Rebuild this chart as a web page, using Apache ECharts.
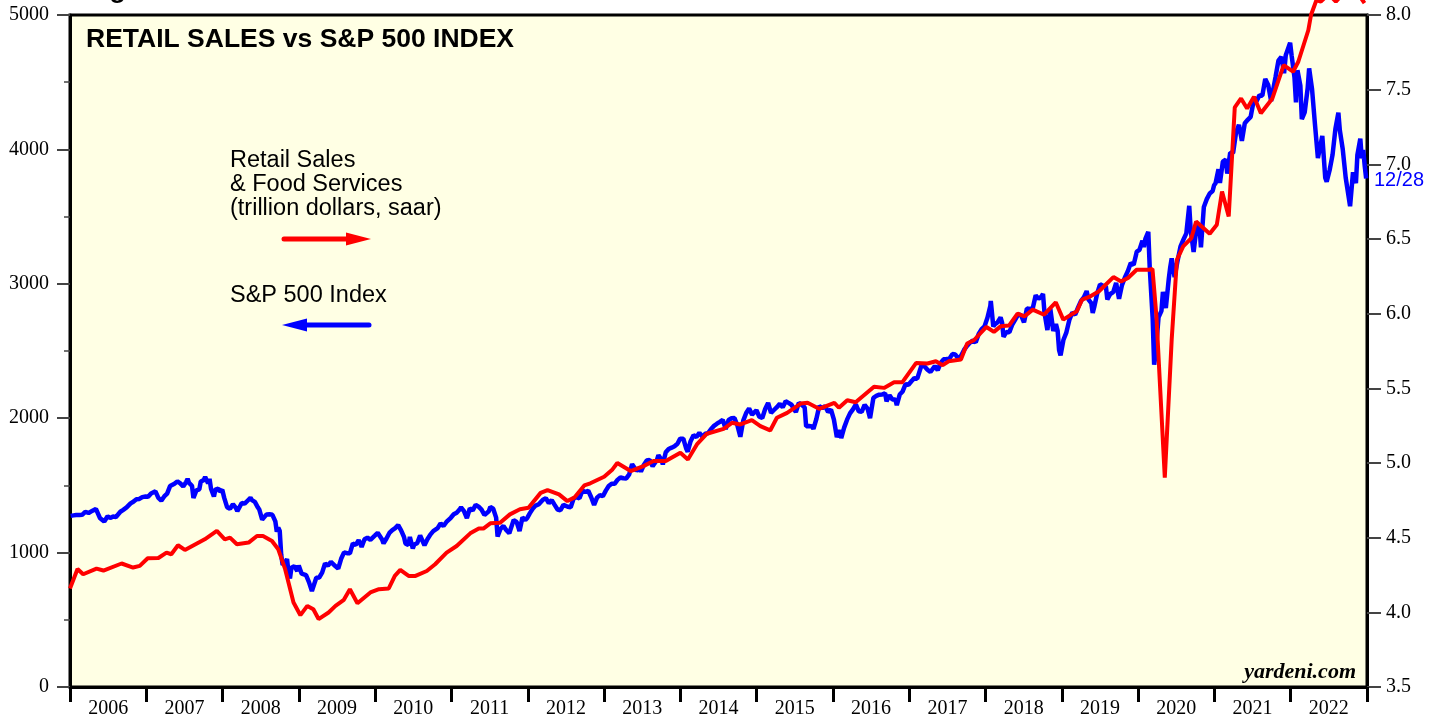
<!DOCTYPE html>
<html>
<head>
<meta charset="utf-8">
<script src="https://cdn.jsdelivr.net/npm/echarts@6/dist/echarts.min.js"></script>
<style>
html,body{margin:0;padding:0;background:#fff;}
#chart{width:1442px;height:719px;}
</style>
</head>
<body>
<div id="chart"></div>
<script>
// ---------- DATA ----------
const years = ['2006','2007','2008','2009','2010','2011','2012','2013','2014','2015','2016','2017','2018','2019','2020','2021','2022'];
const leftTicks = [0,1000,2000,3000,4000,5000];
const rightTicks = [3.5,4.0,4.5,5.0,5.5,6.0,6.5,7.0,7.5,8.0];

// Retail Sales & Food Services (trillion dollars, saar) - right axis
const retailDates = [
'2006-01-01','2006-02-06','2006-03-05','2006-05-08','2006-06-10','2006-09-05','2006-10-30','2006-12-01',
'2007-01-08','2007-02-28','2007-04-08','2007-05-01','2007-06-02','2007-07-05','2007-10-08','2007-12-05',
'2008-01-12','2008-02-06','2008-03-10','2008-05-05','2008-06-14','2008-07-13','2008-08-25','2008-09-24','2008-10-27','2008-12-06',
'2009-01-08','2009-02-10','2009-03-11','2009-04-05','2009-05-23','2009-06-25','2009-08-04','2009-09-02','2009-10-08','2009-12-09',
'2010-01-19','2010-03-07','2010-04-05','2010-05-01','2010-06-10','2010-07-13','2010-09-05','2010-10-15','2010-12-09',
'2011-01-26','2011-04-01','2011-05-12','2011-06-03','2011-07-06','2011-08-22','2011-10-08','2011-11-25',
'2012-01-05','2012-03-03','2012-04-05','2012-05-30','2012-07-09','2012-08-11','2012-09-28','2012-10-27',
'2013-01-01','2013-02-10','2013-03-05','2013-05-08','2013-07-08','2013-08-25','2013-10-23',
'2014-01-01','2014-02-06','2014-03-21','2014-05-08','2014-07-27','2014-09-05','2014-10-15','2014-12-09',
'2015-01-19','2015-03-07','2015-04-08','2015-05-27','2015-07-31','2015-09-02','2015-10-27',
'2016-01-08','2016-01-30','2016-03-10','2016-04-19','2016-07-16','2016-09-02','2016-10-20','2016-11-29',
'2017-02-03','2017-03-29','2017-05-08','2017-06-10','2017-07-08','2017-09-05','2017-10-05','2017-11-06',
'2018-01-05','2018-02-10','2018-03-14','2018-04-23','2018-06-03','2018-07-06','2018-08-15','2018-10-08','2018-12-03',
'2019-01-08','2019-02-22','2019-03-14','2019-04-08','2019-05-12','2019-06-28','2019-09-05','2019-10-12','2019-11-14','2019-12-25',
'2020-02-24','2020-03-10','2020-03-29','2020-05-08','2020-06-10','2020-07-05','2020-08-04','2020-09-12','2020-10-05','2020-12-09',
'2021-01-12','2021-02-06','2021-03-10','2021-04-08','2021-05-08','2021-06-06','2021-07-09','2021-08-11','2021-10-05','2021-11-28',
'2022-01-12','2022-02-06','2022-03-26','2022-04-08','2022-05-04','2022-05-25','2022-07-01','2022-08-05','2022-09-20','2022-10-25','2022-11-20','2022-12-20'
];
const retailValues = [
4.16,4.29,4.255,4.293,4.28,4.327,4.30,4.311,
4.362,4.364,4.40,4.389,4.449,4.418,4.489,4.545,
4.489,4.50,4.456,4.467,4.511,4.511,4.478,4.422,4.289,4.066,
3.981,4.043,4.021,3.955,3.999,4.043,4.084,4.155,4.061,4.133,
4.155,4.16,4.244,4.284,4.244,4.244,4.277,4.322,4.40,
4.444,4.529,4.561,4.561,4.596,4.60,4.656,4.69,
4.70,4.80,4.819,4.79,4.745,4.768,4.85,4.864,
4.908,4.957,5.0,4.946,4.979,5.013,5.013,
5.069,5.024,5.124,5.196,5.229,5.269,5.258,5.287,
5.247,5.218,5.303,5.336,5.398,5.403,5.363,
5.403,5.37,5.42,5.407,5.51,5.503,5.54,5.541,
5.67,5.666,5.681,5.655,5.681,5.693,5.80,5.822,
5.911,5.878,5.915,5.92,6.0,5.982,6.027,5.993,6.076,
5.96,6.0,6.016,6.094,6.112,6.15,6.245,6.216,6.239,6.294,
6.294,6.30,5.982,4.902,5.826,6.36,6.45,6.506,6.617,6.535,
6.595,6.818,6.651,7.381,7.441,7.374,7.452,7.342,7.441,7.665,
7.62,7.687,7.898,8.0,8.10,8.09,8.14,8.09,8.16,8.2,8.14,8.08
];

// S&P 500 Index (weekly) - left axis
const spxDates = [
'2006-01-04','2006-01-18','2006-01-31','2006-02-15','2006-02-28','2006-03-15','2006-03-31','2006-04-19','2006-04-28','2006-05-05','2006-05-24','2006-06-14','2006-06-30','2006-07-12','2006-07-26','2006-08-09','2006-08-30','2006-09-13','2006-09-29','2006-10-18','2006-10-31','2006-11-15','2006-11-29','2006-12-13','2006-12-29',
'2007-01-10','2007-01-24','2007-02-14','2007-02-21','2007-02-28','2007-03-14','2007-03-28','2007-04-11','2007-04-25','2007-05-16','2007-05-30','2007-06-13','2007-06-27','2007-07-11','2007-07-18','2007-07-25','2007-08-08','2007-08-15','2007-08-29','2007-09-12','2007-09-19','2007-10-03','2007-10-10','2007-10-24','2007-10-31','2007-11-07','2007-11-21','2007-11-28','2007-12-12','2007-12-19','2007-12-31',
'2008-01-09','2008-01-23','2008-02-06','2008-02-20','2008-03-05','2008-03-12','2008-03-19','2008-04-02','2008-04-16','2008-04-30','2008-05-14','2008-05-21','2008-06-04','2008-06-18','2008-06-25','2008-07-09','2008-07-16','2008-07-30','2008-08-13','2008-08-27','2008-09-10','2008-09-17','2008-09-24','2008-10-01','2008-10-08','2008-10-15','2008-10-29','2008-11-05','2008-11-12','2008-11-19','2008-11-26','2008-12-10','2008-12-24','2008-12-31',
'2009-01-07','2009-01-14','2009-01-21','2009-02-04','2009-02-18','2009-03-04','2009-03-11','2009-03-25','2009-04-08','2009-04-22','2009-05-06','2009-05-20','2009-06-03','2009-06-10','2009-06-24','2009-07-08','2009-07-22','2009-08-05','2009-08-19','2009-09-02','2009-09-16','2009-09-30','2009-10-14','2009-10-28','2009-11-11','2009-11-25','2009-12-09','2009-12-30',
'2010-01-13','2010-01-20','2010-02-03','2010-02-10','2010-02-24','2010-03-10','2010-03-24','2010-04-07','2010-04-21','2010-05-05','2010-05-19','2010-05-26','2010-06-09','2010-06-16','2010-06-30','2010-07-07','2010-07-21','2010-08-04','2010-08-25','2010-09-08','2010-09-22','2010-10-06','2010-10-27','2010-11-10','2010-11-24','2010-12-08','2010-12-29',
'2011-01-12','2011-01-26','2011-02-09','2011-02-16','2011-03-02','2011-03-16','2011-03-30','2011-04-13','2011-04-27','2011-05-11','2011-05-25','2011-06-08','2011-06-15','2011-06-29','2011-07-06','2011-07-20','2011-08-03','2011-08-10','2011-08-24','2011-09-07','2011-09-21','2011-10-05','2011-10-19','2011-10-26','2011-11-02','2011-11-09','2011-11-23','2011-12-07','2011-12-21','2011-12-30',
'2012-01-11','2012-01-25','2012-02-08','2012-02-22','2012-03-14','2012-03-28','2012-04-11','2012-04-25','2012-05-09','2012-05-23','2012-06-06','2012-06-20','2012-07-11','2012-07-25','2012-08-08','2012-08-22','2012-09-05','2012-09-19','2012-10-03','2012-10-17','2012-10-31','2012-11-14','2012-11-28','2012-12-12','2012-12-26',
'2013-01-09','2013-01-23','2013-02-06','2013-02-20','2013-03-06','2013-03-20','2013-04-03','2013-04-17','2013-05-01','2013-05-15','2013-05-22','2013-06-05','2013-06-19','2013-06-26','2013-07-10','2013-07-24','2013-08-07','2013-08-21','2013-08-28','2013-09-11','2013-09-18','2013-10-02','2013-10-09','2013-10-23','2013-11-06','2013-11-20','2013-12-04','2013-12-18','2013-12-31',
'2014-01-15','2014-01-29','2014-02-05','2014-02-19','2014-03-05','2014-03-19','2014-04-02','2014-04-16','2014-04-30','2014-05-14','2014-05-28','2014-06-11','2014-06-25','2014-07-09','2014-07-23','2014-08-06','2014-08-20','2014-09-03','2014-09-17','2014-10-01','2014-10-15','2014-10-29','2014-11-12','2014-11-26','2014-12-10','2014-12-17','2014-12-31',
'2015-01-14','2015-01-28','2015-02-11','2015-02-25','2015-03-11','2015-03-25','2015-04-08','2015-04-22','2015-05-06','2015-05-20','2015-06-03','2015-06-17','2015-07-08','2015-07-22','2015-08-05','2015-08-19','2015-08-26','2015-09-09','2015-09-23','2015-09-30','2015-10-14','2015-10-28','2015-11-11','2015-11-25','2015-12-09','2015-12-23',
'2016-01-06','2016-01-20','2016-02-03','2016-02-10','2016-02-24','2016-03-09','2016-03-23','2016-04-06','2016-04-20','2016-05-04','2016-05-18','2016-06-01','2016-06-15','2016-06-27','2016-07-13','2016-07-27','2016-08-10','2016-08-24','2016-09-07','2016-09-14','2016-09-28','2016-10-12','2016-10-26','2016-11-02','2016-11-16','2016-11-30','2016-12-14','2016-12-28',
'2017-01-11','2017-01-25','2017-02-08','2017-02-22','2017-03-01','2017-03-15','2017-03-29','2017-04-12','2017-04-19','2017-05-03','2017-05-17','2017-05-31','2017-06-14','2017-06-28','2017-07-12','2017-07-26','2017-08-09','2017-08-23','2017-09-06','2017-09-20','2017-10-04','2017-10-18','2017-11-01','2017-11-15','2017-11-29','2017-12-13','2017-12-27',
'2018-01-10','2018-01-24','2018-01-26','2018-02-07','2018-02-14','2018-02-28','2018-03-14','2018-03-21','2018-03-28','2018-04-11','2018-04-25','2018-05-09','2018-05-23','2018-06-06','2018-06-20','2018-07-04','2018-07-18','2018-08-01','2018-08-15','2018-08-29','2018-09-12','2018-09-26','2018-10-03','2018-10-10','2018-10-24','2018-11-07','2018-11-21','2018-12-04','2018-12-12','2018-12-19','2018-12-26',
'2019-01-09','2019-01-23','2019-02-06','2019-02-20','2019-03-06','2019-03-20','2019-04-03','2019-04-17','2019-04-30','2019-05-08','2019-05-22','2019-05-29','2019-06-05','2019-06-19','2019-07-03','2019-07-17','2019-07-31','2019-08-07','2019-08-21','2019-09-04','2019-09-18','2019-10-02','2019-10-16','2019-10-30','2019-11-13','2019-11-27','2019-12-11','2019-12-26',
'2020-01-08','2020-01-22','2020-01-29','2020-02-05','2020-02-19','2020-02-26','2020-03-04','2020-03-11','2020-03-18','2020-03-25','2020-04-01','2020-04-08','2020-04-22','2020-04-29','2020-05-13','2020-05-27','2020-06-03','2020-06-10','2020-06-24','2020-07-08','2020-07-22','2020-08-05','2020-08-19','2020-09-02','2020-09-09','2020-09-23','2020-10-07','2020-10-21','2020-10-28','2020-11-11','2020-11-25','2020-12-09','2020-12-23','2020-12-30',
'2021-01-06','2021-01-20','2021-01-27','2021-02-10','2021-02-24','2021-03-03','2021-03-17','2021-03-31','2021-04-14','2021-04-28','2021-05-12','2021-05-26','2021-06-09','2021-06-23','2021-07-07','2021-07-21','2021-08-04','2021-08-18','2021-09-01','2021-09-15','2021-09-29','2021-10-06','2021-10-20','2021-11-03','2021-11-17','2021-11-30','2021-12-08','2021-12-15','2021-12-29',
'2022-01-05','2022-01-19','2022-01-26','2022-02-02','2022-02-16','2022-02-23','2022-03-09','2022-03-23','2022-03-30','2022-04-13','2022-04-27','2022-05-11','2022-05-18','2022-06-01','2022-06-15','2022-06-22','2022-07-06','2022-07-20','2022-08-03','2022-08-17','2022-08-24','2022-09-07','2022-09-21','2022-09-28','2022-10-12','2022-10-26','2022-11-09','2022-11-16','2022-11-30','2022-12-07','2022-12-14','2022-12-21','2022-12-28'
];
const spxValues = [
1273,1277,1280,1280,1281,1303,1295,1312,1311,1325,1258,1231,1270,1258,1268,1265,1304,1318,1336,1366,1378,1397,1399,1413,1418,
1415,1440,1456,1457,1407,1387,1418,1439,1495,1512,1530,1515,1492,1525,1549,1518,1497,1406,1463,1471,1529,1539,1563,1515,1549,1475,1417,1469,1477,1454,1468,
1409,1338,1326,1360,1333,1308,1299,1369,1364,1386,1408,1390,1377,1337,1321,1245,1245,1284,1285,1281,1232,1156,1186,1161,985,908,930,953,853,807,887,899,863,903,
907,843,840,832,780,713,721,813,815,851,919,903,931,940,900,881,954,1002,996,995,1068,1057,1093,1043,1099,1111,1095,1126,
1147,1138,1097,1068,1105,1146,1167,1182,1205,1166,1116,1068,1056,1116,1031,1060,1070,1127,1055,1099,1134,1160,1182,1218,1198,1228,1259,
1285,1297,1321,1336,1308,1257,1328,1314,1355,1342,1320,1280,1266,1307,1339,1326,1260,1120,1177,1198,1166,1144,1210,1242,1237,1229,1161,1261,1243,1258,
1292,1326,1350,1358,1394,1405,1368,1391,1355,1321,1315,1355,1341,1337,1402,1413,1404,1461,1451,1460,1412,1355,1409,1428,1419,
1461,1495,1512,1512,1541,1559,1553,1552,1582,1658,1655,1609,1628,1603,1652,1685,1690,1642,1635,1689,1725,1693,1656,1746,1771,1781,1792,1810,1848,
1848,1774,1751,1829,1873,1860,1891,1862,1884,1889,1920,1943,1959,1973,1988,1920,1987,2000,2001,1946,1862,1982,2039,2073,2026,2012,2059,
2011,2002,2068,2114,2040,2061,2082,2107,2081,2126,2114,2100,2046,2114,2100,2080,1940,1942,1938,1920,1994,2090,2075,2089,2047,2064,
1990,1859,1912,1852,1930,1989,2036,2066,2102,2051,2047,2100,2072,2001,2152,2166,2175,2176,2186,2126,2171,2139,2139,2097,2176,2199,2253,2249,
2275,2298,2294,2363,2396,2385,2361,2344,2338,2388,2357,2412,2438,2440,2443,2477,2474,2444,2465,2508,2538,2561,2579,2565,2627,2663,2683,
2748,2837,2873,2682,2698,2714,2750,2712,2605,2642,2639,2697,2733,2772,2767,2713,2816,2813,2818,2914,2888,2906,2925,2786,2656,2814,2650,2700,2651,2507,2467,
2584,2639,2731,2785,2771,2824,2873,2900,2946,2884,2856,2783,2826,2926,2996,2985,2980,2884,2924,2938,3006,2888,2990,3047,3094,3154,3142,3240,
3253,3321,3273,3334,3386,3116,3130,2741,2398,2476,2471,2750,2799,2940,2820,3036,3123,3190,3050,3170,3276,3328,3375,3580,3399,3237,3419,3435,3271,3572,3630,3672,3690,3733,
3748,3852,3750,3910,3925,3820,3975,3973,4125,4183,4063,4195,4220,4242,4358,4359,4402,4400,4524,4480,4360,4363,4537,4660,4689,4567,4701,4709,4793,
4700,4533,4350,4589,4475,4225,4278,4456,4603,4447,4184,3935,3923,4101,3790,3760,3845,3959,4155,4274,4141,4000,3790,3719,3577,3830,3749,3959,4080,3933,3995,3879,3783
];

// ---------- CHART ----------
const serif = '"Liberation Serif","Times New Roman",serif';
const sans = '"Liberation Sans",Arial,sans-serif';
const chart = echarts.init(document.getElementById('chart'), null, {renderer:'canvas'});

const retailData = retailDates.map((d,i)=>[d, retailValues[i]]);
const spxData = spxDates.map((d,i)=>[d, spxValues[i]]);

const G = {left:70, right:75, top:15, bottom:31};

const option = {
  animation:false,
  backgroundColor:'#ffffff',
  grid:{left:G.left, right:G.right, top:G.top, bottom:G.bottom, show:true,
        backgroundColor:'#ffffe4', borderColor:'#000', borderWidth:3, containLabel:false},
  xAxis:[
    {type:'category', data:years, boundaryGap:true, position:'bottom',
     axisLine:{show:true, lineStyle:{color:'#000', width:3}},
     axisTick:{show:true, interval:0, length:15, lineStyle:{color:'#000', width:3}},
     axisLabel:{interval:0, margin:12, color:'#000', fontFamily:serif, fontSize:20},
     splitLine:{show:false}},
    {type:'time', show:false,
     min:new Date(2006,0,1).getTime(), max:new Date(2023,0,1).getTime(),
     splitLine:{show:false}}
  ],
  yAxis:[
    {type:'value', position:'left', min:0, max:5000, interval:1000,
     axisLine:{show:true, lineStyle:{color:'#000', width:3}},
     axisTick:{show:true, length:13, lineStyle:{color:'#444', width:2}},
     minorTick:{show:true, splitNumber:2, length:6, lineStyle:{color:'#444', width:1.5}},
     axisLabel:{margin:21, color:'#000', fontFamily:serif, fontSize:20,
                formatter:v=>String(v)},
     splitLine:{show:false}},
    {type:'value', position:'right', min:3.5, max:8.0, interval:0.5,
     axisLine:{show:true, lineStyle:{color:'#000', width:3}},
     axisTick:{show:true, length:14, lineStyle:{color:'#444', width:2}},
     axisLabel:{margin:19, color:'#000', fontFamily:serif, fontSize:20,
                formatter:v=>v.toFixed(1)},
     splitLine:{show:false}}
  ],
  series:[
    {name:'S&P 500 Index', type:'line', xAxisIndex:1, yAxisIndex:0, data:spxData,
     showSymbol:false, symbol:'none', lineStyle:{color:'#0000ff', width:4.5}, z:3},
    {name:'Retail Sales', type:'line', xAxisIndex:1, yAxisIndex:1, data:retailData,
     showSymbol:false, symbol:'none', clip:false, lineStyle:{color:'#ff0000', width:4}, z:4}
  ],
  graphic:[
    {type:'text', left:86, top:26, style:{text:'RETAIL SALES vs S&P 500 INDEX', font:'bold 26.5px '+sans, fill:'#000'}},
    {type:'text', x:86, y:-23, style:{text:'Figure 1.', font:'bold 26.5px '+sans, fill:'#000'}},
    {type:'text', x:230, y:149, style:{text:'Retail Sales\n& Food Services\n(trillion dollars, saar)', font:'23.5px '+sans, fill:'#000', lineHeight:24}},
    {type:'text', x:230, y:284, style:{text:'S&P 500 Index', font:'23.5px '+sans, fill:'#000'}},
    {type:'line', shape:{x1:284, y1:239, x2:350, y2:239}, style:{stroke:'#ff0000', lineWidth:5, lineCap:'round'}},
    {type:'polygon', shape:{points:[[346,232.5],[371,239],[346,245.5]]}, style:{fill:'#ff0000'}},
    {type:'line', shape:{x1:303, y1:325, x2:369, y2:325}, style:{stroke:'#0000ff', lineWidth:5, lineCap:'round'}},
    {type:'polygon', shape:{points:[[307,318.5],[282,325],[307,331.5]]}, style:{fill:'#0000ff'}},
    {type:'text', x:1374, y:170, style:{text:'12/28', font:'20px '+sans, fill:'#0000ff'}},
    {type:'text', right:86, top:661, style:{text:'yardeni.com', font:'italic bold 22px '+serif, fill:'#000'}}
  ]
};
chart.setOption(option);
</script>
</body>
</html>
